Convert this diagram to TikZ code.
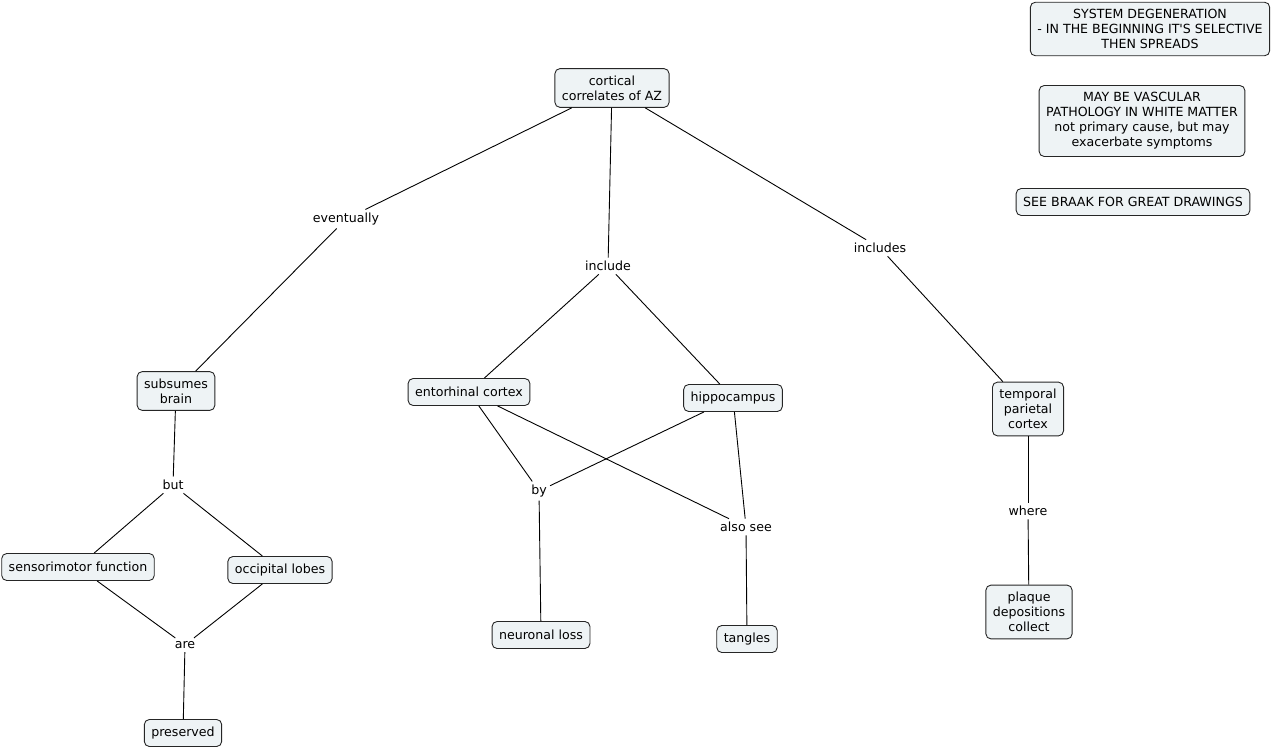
\documentclass[tikz,border=0pt]{standalone}
\usepackage{fontspec}
\setmainfont{DejaVu Sans}
\definecolor{cmapfill}{HTML}{EEF3F5}
\begin{document}
\begin{tikzpicture}[x=1pt, y=-1pt, line width=0.9pt,
    main/.style = {draw=black!85, fill=cmapfill, rounded corners=5pt, align=center,
                   inner xsep=7pt, inner ysep=7pt, minimum height=27pt,
                   font=\fontsize{12.6}{15}\selectfont},
    link/.style = {inner sep=3pt, font=\fontsize{12.6}{15}\selectfont}]
    \useasboundingbox (0,0) rectangle (1273,751);
    % Disegna i concetti

    \node[main] (0) at (612,88) {cortical\\correlates of AZ};
    \node[main] (1) at (176,391) {subsumes\\brain};
    \node[main] (2) at (469,392) {entorhinal cortex};
    \node[main] (3) at (733,398) {hippocampus};
    \node[main] (4) at (1028,409) {temporal\\parietal\\cortex};
    \node[main] (5) at (78,567) {sensorimotor function};
    \node[main] (6) at (280,570) {occipital lobes};
    \node[main] (7) at (183,733) {preserved};
    \node[main] (8) at (541,635) {neuronal loss};
    \node[main] (9) at (747,639) {tangles};
    \node[main] (10) at (1029,612) {plaque\\depositions\\collect};

    \node[main] (11) at (1150,29) {SYSTEM DEGENERATION\\- IN THE BEGINNING IT\textquotesingle S SELECTIVE\\THEN SPREADS};
    \node[main] (12) at (1142,121) {MAY BE VASCULAR\\PATHOLOGY IN WHITE MATTER\\not primary cause, but may\\exacerbate symptoms};
    \node[main] (13) at (1133,202) {SEE BRAAK FOR GREAT DRAWINGS};
    % Disegna le frasi di collegamento
    \node[link] (e) at (346,219) {eventually};
    \node[link] (i) at (608,266) {include};
    \node[link] (s) at (880,248) {includes};
    \node[link] (b) at (173,485) {but};
    \node[link] (y) at (539,491) {by};
    \node[link] (a) at (746,527) {also see};
    \node[link] (w) at (1028,511) {where};
    \node[link] (r) at (185,645) {are};
    % Disegna gli archi
    \draw (0) to (e);
    \draw (e) to (1);
    \draw (0) to (i);
    \draw (i) to (2);
    \draw (i) to (3);
    \draw (0) to (s);
    \draw (s) to (4);

    \draw (1) to (b);
    \draw (b) to (5);
    \draw (b) to (6);
    \draw (5) to (r);
    \draw (6) to (r);
    \draw (r) to (7);

    \draw (2) to (y);
    \draw (3) to (y);
    \draw (y) to (8);
    \draw (2) to (a);
    \draw (3) to (a);
    \draw (a) to (9);
    \draw (4) to (w);
    \draw (w) to (10);


\end{tikzpicture}
\end{document}
